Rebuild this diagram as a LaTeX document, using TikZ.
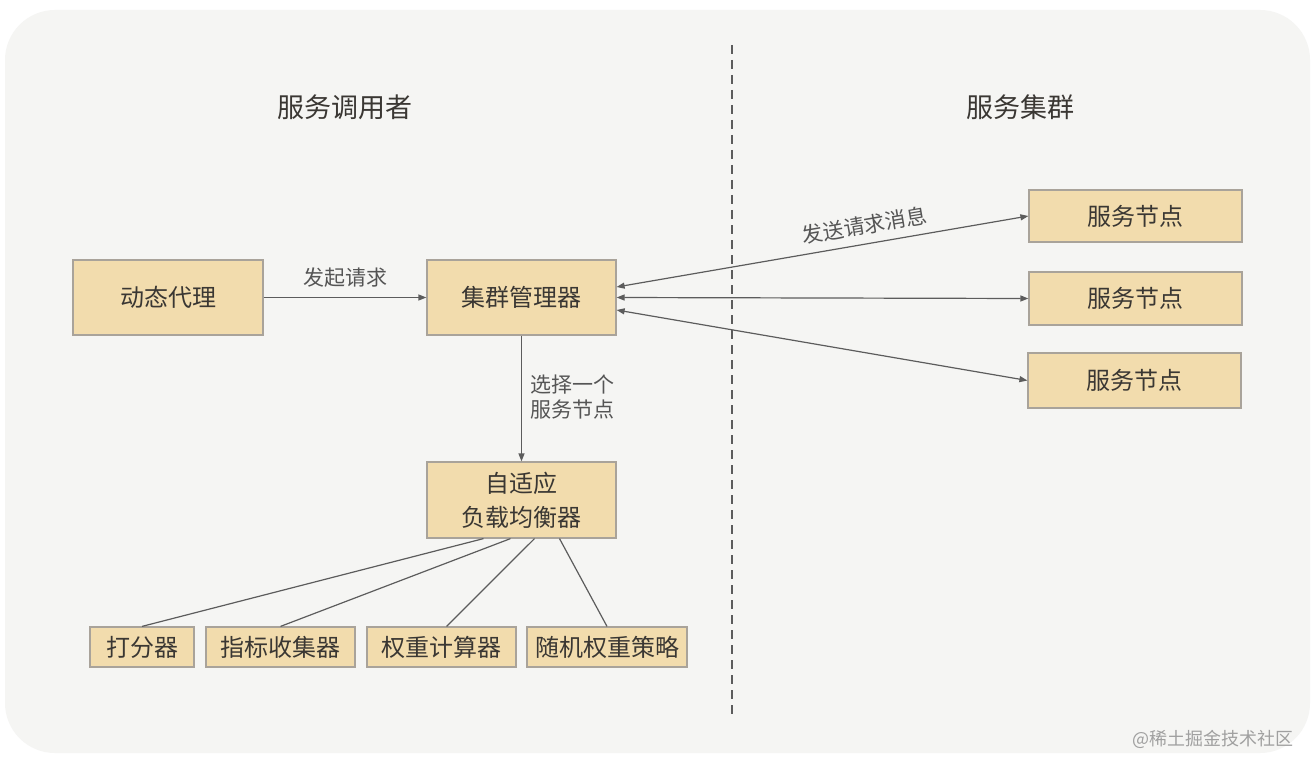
\documentclass[tikz,border=0pt]{standalone}
\usepackage{fontspec}
\setmainfont{Noto Sans CJK SC}
\usetikzlibrary{arrows.meta}
\definecolor{bgc}{HTML}{F5F5F3}
\definecolor{boxfill}{HTML}{F2DCAD}
\definecolor{boxline}{HTML}{A9A39A}
\definecolor{txt}{HTML}{3A3733}
\definecolor{lblc}{HTML}{555555}
\definecolor{arrc}{HTML}{5C5C5C}
\definecolor{wmc}{HTML}{A0A0A0}
\begin{document}
\begin{tikzpicture}[x=1pt,y=-1pt,
  box/.style={draw=boxline, fill=boxfill, line width=1.2pt, inner sep=0pt,
    text=txt, font=\fontsize{24}{34}\selectfont, align=center},
  smallbox/.style={box, minimum height=40pt},
  title/.style={text=txt, font=\fontsize{27}{30}\selectfont},
  lbl/.style={text=lblc, font=\fontsize{21}{25}\selectfont},
  conn/.style={draw=arrc, line width=1.2pt},
  arr/.style={conn, -{Triangle[length=8pt,width=6pt]}},
  darr/.style={conn, {Triangle[length=8pt,width=6pt]}-{Triangle[length=8pt,width=6pt]}},
  divider/.style={draw=arrc, line width=1.2pt, dash pattern=on 9pt off 6pt}
]
\useasboundingbox (0,0) rectangle (1314,770);
\fill[white] (0,0) rectangle (1314,770);
\fill[bgc, rounded corners=50pt] (5,10) rectangle (1310,753);

% titles
\node[title] (t1) at (345,107) {服务调用者};
\node[title] (t2) at (1020,107) {服务集群};

% divider
\coordinate (dtop) at (732,45);
\coordinate (dbot) at (732,718);
\draw[divider] (dtop) -- (dbot);

% main boxes
\node[box, minimum width=190pt, minimum height=75pt] (proxy) at (168,297.5) {动态代理};
\node[box, minimum width=189pt, minimum height=75pt] (mgr) at (521.5,297.5) {集群管理器};
\node[box, minimum width=189pt, minimum height=76pt] (lb) at (521.5,500) {自适应\\负载均衡器};

% service nodes
\node[box, minimum width=213pt, minimum height=52pt] (n1) at (1135.5,216) {服务节点};
\node[box, minimum width=213pt, minimum height=53pt] (n2) at (1135.5,298.5) {服务节点};
\node[box, minimum width=213pt, minimum height=55pt] (n3) at (1134.5,380.5) {服务节点};

% bottom boxes
\node[smallbox, minimum width=104pt] (s1) at (142,647) {打分器};
\node[smallbox, minimum width=149pt] (s2) at (280.5,647) {指标收集器};
\node[smallbox, minimum width=149pt] (s3) at (441.5,647) {权重计算器};
\node[smallbox, minimum width=160pt] (s4) at (607,647) {随机权重策略};

% connectors
\draw[arr] (proxy) -- node[lbl, above=6pt] (l1) {发起请求} (mgr);
\draw[darr] ([yshift=10.5pt]mgr.east) -- node[lbl, pos=0.61, sloped, above=5pt] (l2) {发送请求消息} (n1.west);
\draw[darr] (mgr.east) -- (n2.west);
\draw[darr] ([yshift=-12.5pt]mgr.east) -- (n3.west);
\draw[arr] (mgr) -- (lb);
\node[lbl, align=left, anchor=west] (l3) at (527,397) {选择一个\\服务节点};

\draw[conn] ([xshift=-38pt]lb.south) -- (s1.north);
\draw[conn] ([xshift=-11pt]lb.south) -- (s2.north);
\draw[conn] ([xshift=13pt]lb.south) -- ([xshift=5pt]s3.north);
\draw[conn] ([xshift=38pt]lb.south) -- (s4.north);

% watermark
\node[text=wmc, font=\fontsize{18}{18}\selectfont] (wm) at (1213,739) {@稀土掘金技术社区};
\end{tikzpicture}
\end{document}
